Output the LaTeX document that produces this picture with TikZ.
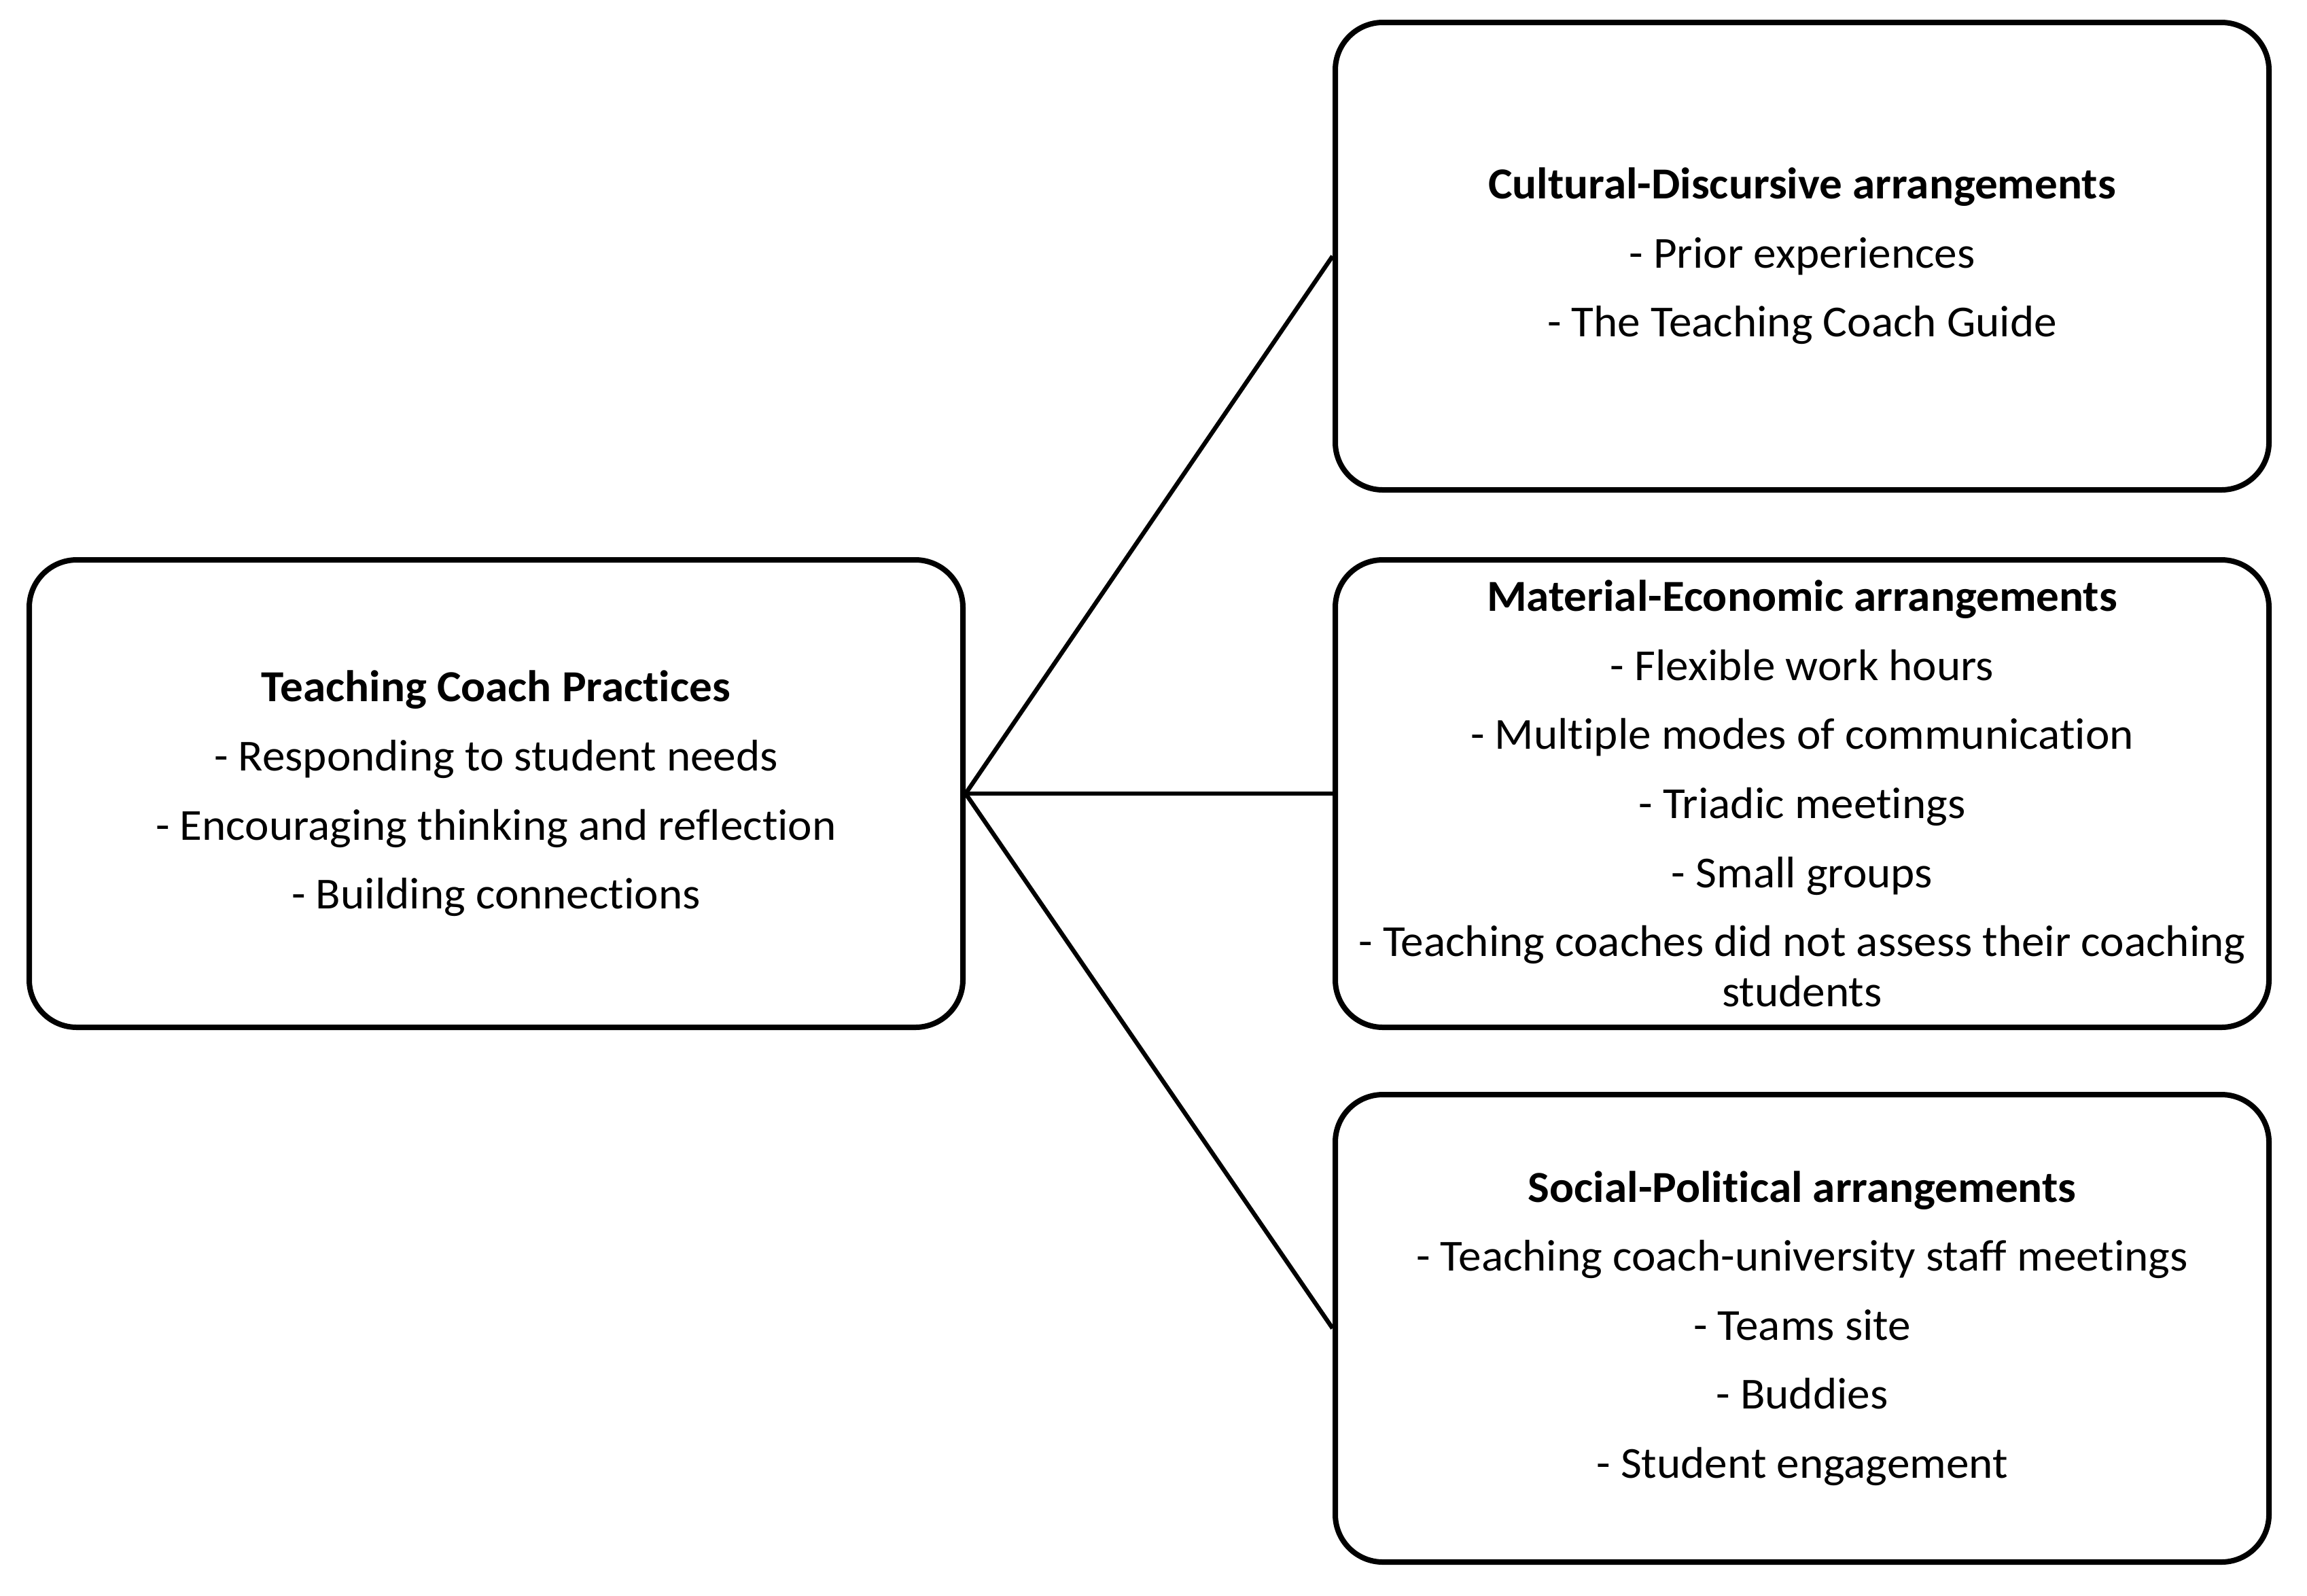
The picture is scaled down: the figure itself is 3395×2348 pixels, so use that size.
\documentclass[tikz,border=0pt]{standalone}
\usepackage{fontspec}
\setmainfont{Carlito}[Ligatures=NoCommon, FakeStretch=1.03]
\begin{document}
\begin{tikzpicture}[x=0.25pt,y=-0.25pt,
  box/.style={draw=black, line width=2pt, rounded corners=17.5pt,
    minimum width=343.5pt, minimum height=172pt, align=center, inner sep=0pt,
    font=\fontsize{16.3}{18.5}\selectfont},
  link/.style={draw=black, line width=1.6pt}]
\useasboundingbox (0,0) rectangle (3395,2348);
\node[box] (tcp) at (730,1168) {\textbf{Teaching Coach Practices}\\[6.9pt]
  - Responding to student needs\\[6.9pt]
  - Encouraging thinking and reflection\\[6.9pt]
  - Building connections};
\node[box] (cd) at (2652,377) {\textbf{Cultural-Discursive arrangements}\\[6.9pt]
  - Prior experiences\\[6.9pt]
  - The Teaching Coach Guide};
\node[box] (me) at (2652,1168) {\textbf{Material-Economic arrangements}\\[6.9pt]
  - Flexible work hours\\[6.9pt]
  - Multiple modes of communication\\[6.9pt]
  - Triadic meetings\\[6.9pt]
  - Small groups\\[6.9pt]
  - Teaching coaches did not assess their coaching\\
  students};
\node[box] (sp) at (2652,1955) {\textbf{Social-Political arrangements}\\[6.9pt]
  - Teaching coach-university staff meetings\\[6.9pt]
  - Teams site\\[6.9pt]
  - Buddies\\[6.9pt]
  - Student engagement};
\draw[link] (tcp.east) -- (cd.west);
\draw[link] (tcp.east) -- (me.west);
\draw[link] (tcp.east) -- (sp.west);
\end{tikzpicture}
\end{document}
